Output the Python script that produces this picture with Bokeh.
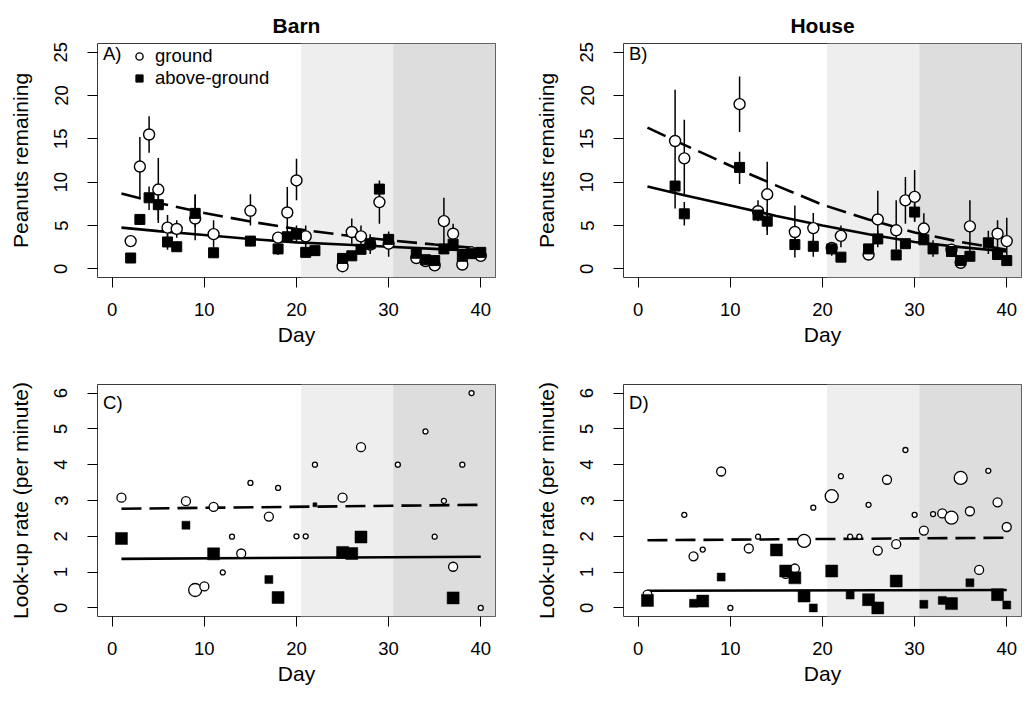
from bokeh.plotting import figure
from bokeh.models import (Range1d, FixedTicker, BoxAnnotation, Label, Legend,
                          LegendItem, ColumnDataSource)
from bokeh.layouts import column, row
from bokeh.embed import file_html
from bokeh.resources import INLINE

FONT = "Liberation Sans"
LIGHT = "#eeeeee"
DARK = "#dddddd"

# ---------------- data ----------------
period_bounds = [20.5, 30.5]          # start of the two shaded periods (days)
x_ticks = [0, 10, 20, 30, 40]
peanut_ticks = [0, 5, 10, 15, 20, 25]
rate_ticks = [0, 1, 2, 3, 4, 5, 6]

# Panel A: Barn, peanuts remaining
a_ground_day = [2, 3, 4, 5, 6, 7, 9, 11, 15, 18, 19, 20, 21, 25, 26, 27, 28, 29, 30, 33, 34, 35, 36, 37, 38, 39, 40]
a_ground_val = [3.2, 11.8, 15.5, 9.15, 4.75, 4.6, 5.8, 4.0, 6.7, 3.6, 6.5, 10.2, 3.75, 0.3, 4.25, 3.75, 2.8, 7.7, 2.9, 1.25, 0.9, 0.4, 5.5, 4.05, 0.5, 1.9, 1.5]
a_above_day = [2, 3, 4, 5, 6, 7, 9, 11, 15, 18, 19, 20, 21, 22, 25, 26, 27, 28, 29, 30, 33, 34, 35, 36, 37, 38, 39, 40]
a_above_val = [1.25, 5.7, 8.2, 7.4, 3.1, 2.55, 6.4, 1.85, 3.2, 2.3, 3.7, 4.0, 1.9, 2.1, 1.2, 1.5, 2.25, 2.9, 9.2, 3.4, 1.8, 1.05, 0.95, 2.3, 2.85, 1.45, 1.75, 1.9]
a_err_day = [3, 4, 5, 6, 7, 9, 11, 15, 19, 20, 21, 26, 27, 29, 36, 37,
             4, 5, 6, 9, 15, 18, 20, 28, 29, 30, 39]
a_err_low = [8.3, 13.4, 5.3, 2.5, 3.6, 3.3, 2.5, 5.0, 3.3, 7.9, 2.5, 2.9, 2.5, 5.2, 2.1, 2.9,
             6.8, 5.6, 2.2, 4.8, 2.6, 1.6, 3.0, 1.7, 8.3, 1.4, 1.2]
a_err_high = [15.2, 17.6, 12.8, 6.2, 5.6, 8.5, 5.6, 8.6, 9.45, 12.7, 5.0, 5.8, 5.0, 9.8, 8.2, 5.2,
              9.5, 8.5, 4.0, 8.6, 3.7, 3.2, 5.0, 4.0, 10.2, 4.3, 2.4]

# Panel B: House, peanuts remaining
b_ground_day = [4, 5, 11, 13, 14, 17, 19, 21, 22, 25, 26, 28, 29, 30, 31, 34, 35, 36, 39, 40]
b_ground_val = [14.75, 12.75, 19.0, 6.65, 8.6, 4.25, 4.7, 2.4, 3.8, 1.65, 5.7, 4.45, 7.9, 8.3, 4.65, 2.2, 0.7, 4.9, 4.05, 3.2]
b_above_day = [4, 5, 11, 13, 14, 17, 19, 21, 22, 25, 26, 28, 29, 30, 31, 32, 34, 35, 36, 38, 39, 40]
b_above_val = [9.55, 6.35, 11.7, 6.2, 5.5, 2.8, 2.6, 2.3, 1.35, 2.3, 3.45, 1.6, 2.9, 6.55, 3.35, 2.3, 2.0, 0.95, 1.45, 3.0, 1.65, 0.95]
b_err_day = [4, 5, 11, 13, 14, 17, 19, 22, 26, 28, 29, 30, 31, 34, 36, 39, 40,
             5, 11, 14, 17, 19, 21, 26, 30, 32, 38]
b_err_low = [6.95, 8.5, 15.8, 5.5, 4.4, 2.5, 2.5, 2.5, 3.0, 2.2, 5.2, 5.5, 3.4, 1.5, 1.5, 2.3, 1.0,
             5.0, 9.8, 3.9, 1.3, 1.4, 1.5, 2.5, 5.4, 1.4, 1.7]
b_err_high = [20.65, 17.2, 22.2, 7.9, 12.35, 7.3, 6.45, 5.0, 9.0, 7.9, 10.6, 11.4, 6.4, 2.8, 7.9, 5.6, 5.9,
              7.7, 13.5, 6.8, 4.1, 3.4, 3.0, 4.4, 7.6, 3.3, 4.4]

# fitted trends
fit_day = [1, 5, 10, 15, 20, 25, 30, 35, 40]
a_ground_fit = [8.7, 7.6, 6.45, 5.45, 4.6, 3.9, 3.3, 2.8, 2.35]
a_above_fit = [4.75, 4.35, 3.9, 3.45, 3.05, 2.8, 2.55, 2.3, 2.05]
b_ground_fit = [16.3, 14.3, 11.9, 9.6, 7.4, 5.7, 4.2, 3.1, 2.2]
b_above_fit = [9.5, 8.5, 7.3, 6.1, 5.0, 4.0, 3.1, 2.5, 2.0]

# Panel C: Barn, look-up rate (weight = relative marker size class)
c_ground_day = [1, 8, 9, 10, 11, 12, 13, 14, 15, 17, 18, 20, 21, 22, 25, 27, 31, 34, 35, 36, 37, 38, 39, 40]
c_ground_val = [3.08, 2.98, 0.5, 0.6, 2.82, 0.99, 1.99, 1.52, 3.49, 2.55, 3.35, 2.0, 2.0, 4.0, 3.08, 4.49, 4.0, 4.93, 1.99, 2.99, 1.15, 4.0, 6.0, 0.0]
c_ground_w = [2, 2, 3, 2, 2, 1, 1, 2, 1, 2, 1, 1, 1, 1, 2, 2, 1, 1, 1, 1, 2, 1, 1, 1]
c_above_day = [1, 8, 11, 17, 18, 22, 25, 26, 27, 37]
c_above_val = [1.94, 2.31, 1.51, 0.79, 0.29, 2.88, 1.55, 1.52, 1.98, 0.28]
c_above_w = [3, 2, 3, 2, 3, 1, 3, 3, 3, 3]

# Panel D: House, look-up rate
d_ground_day = [1, 5, 6, 7, 9, 10, 12, 13, 15, 16, 17, 18, 19, 21, 22, 23, 24, 25, 26, 27, 28, 29, 30, 31, 32, 33, 34, 35, 36, 37, 38, 39, 40]
d_ground_val = [0.37, 2.6, 1.44, 1.63, 3.81, 0.0, 1.66, 1.99, 1.62, 0.95, 1.1, 1.87, 2.8, 3.12, 3.68, 1.99, 1.99, 2.88, 1.6, 3.58, 1.78, 4.41, 2.6, 2.16, 2.62, 2.64, 2.52, 3.63, 2.7, 1.06, 3.83, 2.95, 2.26]
d_ground_w = [2, 1, 2, 1, 2, 1, 2, 1, 2, 2, 2, 3, 1, 3, 1, 1, 1, 1, 2, 2, 2, 1, 1, 2, 1, 2, 3, 3, 2, 2, 1, 2, 2]
d_above_day = [1, 6, 7, 9, 15, 16, 17, 18, 19, 21, 23, 25, 26, 28, 31, 33, 34, 36, 39, 40]
d_above_val = [0.21, 0.13, 0.19, 0.86, 1.62, 1.03, 0.84, 0.33, 0.0, 1.03, 0.36, 0.23, 0.0, 0.75, 0.1, 0.21, 0.12, 0.7, 0.37, 0.08]
d_above_w = [3, 2, 3, 2, 3, 3, 3, 3, 2, 3, 2, 3, 3, 3, 2, 2, 3, 2, 3, 2]

line_day = [1, 40]
c_ground_fit = [2.77, 2.88]
c_above_fit = [1.37, 1.43]
d_ground_fit = [1.89, 1.96]
d_above_fit = [0.48, 0.50]

panel_titles = ["Barn", "House"]
panel_tags = ["A)", "B)", "C)", "D)"]
y_label_top = "Peanuts remaining"
y_label_bottom = "Look-up rate (per minute)"
x_label = "Day"

# ---------------- layout ----------------
FRAME_W = 398
TOP_H, BOT_H = 234, 232
TICK_FS, LABEL_FS, TITLE_FS = "18.5px", "21px", "21px"


def make_fig(left_border, right_border, top_border, bottom_border, frame_h,
             yr, yticks, ylabel, title=None):
    p = figure(width=left_border + FRAME_W + right_border,
               height=top_border + frame_h + bottom_border,
               x_range=Range1d(-1.6, 41.6), y_range=Range1d(*yr),
               output_backend="svg", toolbar_location=None,
               min_border_left=left_border, min_border_right=right_border,
               min_border_top=top_border, min_border_bottom=bottom_border,
               title=title)
    p.background_fill_color = "white"
    p.border_fill_color = "white"
    p.outline_line_color = "#3a3a3a"
    p.outline_line_width = 1
    p.xgrid.visible = False
    p.ygrid.visible = False
    if title:
        p.title.align = "center"
        p.title.text_font = FONT
        p.title.text_font_size = TITLE_FS
        p.title.text_font_style = "bold"
        p.title.text_color = "black"
        p.title.standoff = 14
    p.xaxis.ticker = FixedTicker(ticks=x_ticks)
    p.yaxis.ticker = FixedTicker(ticks=yticks)
    for ax in (p.xaxis, p.yaxis):
        ax.axis_line_color = None
        ax.major_tick_in = 0
        ax.major_tick_out = 10
        ax.major_tick_line_color = "black"
        ax.major_tick_line_width = 1
        ax.minor_tick_line_color = None
        ax.major_label_text_font = FONT
        ax.major_label_text_font_size = TICK_FS
        ax.major_label_text_color = "black"
        ax.axis_label_text_font = FONT
        ax.axis_label_text_font_size = LABEL_FS
        ax.axis_label_text_font_style = "normal"
        ax.axis_label_text_color = "black"
    p.xaxis.axis_label = x_label
    p.xaxis.major_label_standoff = 15
    p.xaxis.axis_label_standoff = 4
    p.yaxis.axis_label = ylabel
    p.yaxis.major_label_standoff = 20
    p.yaxis.axis_label_standoff = 20
    p.yaxis.major_label_orientation = "vertical"
    p.add_layout(BoxAnnotation(left=period_bounds[0], right=period_bounds[1],
                               fill_color=LIGHT, fill_alpha=1, line_color=None,
                               level="underlay"))
    p.add_layout(BoxAnnotation(left=period_bounds[1], fill_color=DARK,
                               fill_alpha=1, line_color=None, level="underlay"))
    return p


def add_tag(p, text, y):
    p.add_layout(Label(x=-1.0, y=y, text=text, text_font=FONT,
                       text_font_size=TICK_FS, text_color="black",
                       text_baseline="middle", text_align="left"))


def peanut_panel(p, g_day, g_val, a_day, a_val, e_day, e_lo, e_hi, g_fit, a_fit):
    p.line(fit_day, g_fit, line_color="black", line_width=2.6, line_dash="20 8")
    p.line(fit_day, a_fit, line_color="black", line_width=2.6)
    p.segment(x0=e_day, y0=e_lo, x1=e_day, y1=e_hi, line_color="black", line_width=1.5)
    rg = p.scatter(g_day, g_val, marker="circle", size=11, fill_color="white",
                   line_color="black", line_width=1.4)
    ra = p.scatter(a_day, a_val, marker="square", size=10, fill_color="black",
                   line_color="black", line_width=1)
    return rg, ra


def rate_panel(p, g_day, g_val, g_w, a_day, a_val, a_w, g_fit, a_fit):
    p.line(line_day, g_fit, line_color="black", line_width=2.6, line_dash="20 8")
    p.line(line_day, a_fit, line_color="black", line_width=2.6)
    gs = ColumnDataSource(dict(x=g_day, y=g_val, s=[4 * w + 1 for w in g_w]))
    as_ = ColumnDataSource(dict(x=a_day, y=a_val, s=[4 * w for w in a_w]))
    p.scatter("x", "y", source=gs, marker="circle", size="s", fill_color="white",
              line_color="black", line_width=1.3)
    p.scatter("x", "y", source=as_, marker="square", size="s", fill_color="black",
              line_color="black", line_width=0.5)


# Panel A
pa = make_fig(97, 8, 43, 73, TOP_H, (-1, 26), peanut_ticks, y_label_top, panel_titles[0])
rg, ra = peanut_panel(pa, a_ground_day, a_ground_val, a_above_day, a_above_val,
                      a_err_day, a_err_low, a_err_high, a_ground_fit, a_above_fit)
add_tag(pa, panel_tags[0], 24.9)
legend = Legend(items=[LegendItem(label="ground", renderers=[rg]),
                       LegendItem(label="above-ground", renderers=[ra])],
                location=(32, TOP_H - 3 - 43), margin=0, padding=0, spacing=0,
                glyph_width=20, glyph_height=18, label_standoff=6,
                label_text_font=FONT, label_text_font_size=TICK_FS,
                label_text_color="black", border_line_color=None,
                background_fill_alpha=0)
pa.add_layout(legend)

# Panel B
pb = make_fig(120, 4, 43, 73, TOP_H, (-1, 26), peanut_ticks, y_label_top, panel_titles[1])
peanut_panel(pb, b_ground_day, b_ground_val, b_above_day, b_above_val,
             b_err_day, b_err_low, b_err_high, b_ground_fit, b_above_fit)
add_tag(pb, panel_tags[1], 24.9)

# Panel C
pc = make_fig(97, 8, 34, 79, BOT_H, (-0.24, 6.24), rate_ticks, y_label_bottom)
rate_panel(pc, c_ground_day, c_ground_val, c_ground_w, c_above_day, c_above_val,
           c_above_w, c_ground_fit, c_above_fit)
add_tag(pc, panel_tags[2], 5.75)

# Panel D
pd_ = make_fig(120, 4, 34, 79, BOT_H, (-0.24, 6.24), rate_ticks, y_label_bottom)
rate_panel(pd_, d_ground_day, d_ground_val, d_ground_w, d_above_day, d_above_val,
           d_above_w, d_ground_fit, d_above_fit)
add_tag(pd_, panel_tags[3], 5.75)

layout = column(row(pa, pb, spacing=0), row(pc, pd_, spacing=0), spacing=0)
open("out.html", "w").write(file_html(layout, INLINE))
